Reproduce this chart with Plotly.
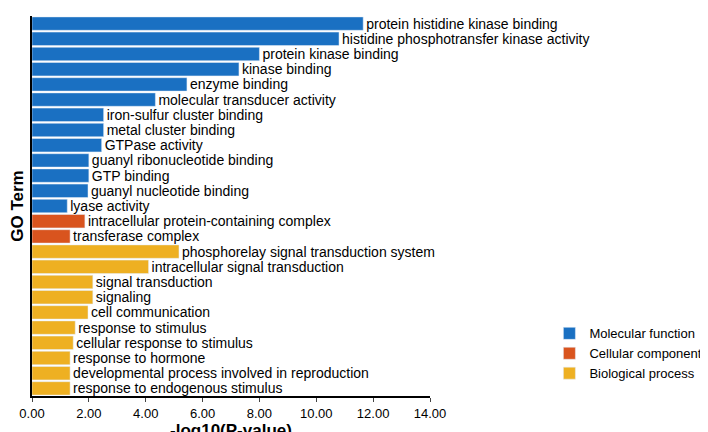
import plotly.graph_objects as go

mf_terms = ["protein histidine kinase binding","histidine phosphotransfer kinase activity","protein kinase binding","kinase binding","enzyme binding","molecular transducer activity","iron-sulfur cluster binding","metal cluster binding","GTPase activity","guanyl ribonucleotide binding","GTP binding","guanyl nucleotide binding","lyase activity"]
mf_vals = [11.65,10.8,8.0,7.28,5.45,4.34,2.52,2.52,2.45,2.0,2.0,1.97,1.24]
cc_terms = ["intracellular protein-containing complex","transferase complex"]
cc_vals = [1.86,1.34]
bp_terms = ["phosphorelay signal transduction system","intracellular signal transduction","signal transduction","signaling","cell communication","response to stimulus","cellular response to stimulus","response to hormone","developmental process involved in reproduction","response to endogenous stimulus"]
bp_vals = [5.17,4.1,2.14,2.14,1.97,1.52,1.45,1.34,1.34,1.34]
x_ticks = [0,2,4,6,8,10,12,14]

order = mf_terms + cc_terms + bp_terms
fig = go.Figure()
for name, terms, vals, col in [("Molecular function", mf_terms, mf_vals, "#1a70c2"),
                               ("Cellular component", cc_terms, cc_vals, "#d9541e"),
                               ("Biological process", bp_terms, bp_vals, "#eeb022")]:
    fig.add_trace(go.Bar(y=terms, x=vals, orientation="h", name=name, marker_color=col,
                         text=terms, textposition="outside", cliponaxis=False,
                         constraintext="none",
                         textfont=dict(size=14, color="black")))
fig.update_layout(
    width=708, height=432, margin=dict(l=24, r=284, t=8, b=28),
    plot_bgcolor="white", paper_bgcolor="white", bargap=0.12,
    font=dict(family="Liberation Sans, Arial", color="black"),
    legend=dict(x=1.3, y=0.02, xanchor="left", yanchor="bottom", font=dict(size=13),
                traceorder="normal", itemwidth=30, tracegroupgap=0),
)
fig.update_xaxes(range=[0,14], tickvals=x_ticks, ticktext=[f"{v:.2f}" for v in x_ticks],
                 showline=True, linecolor="black", linewidth=2, ticks="outside", ticklen=4,
                 tickfont=dict(size=13), showgrid=False, zeroline=False,
                 title=dict(text="<b>-log10(P-value)</b>", font=dict(size=17), standoff=0))
fig.update_yaxes(categoryorder="array", categoryarray=order[::-1], showticklabels=False,
                 showline=True, linecolor="black", linewidth=2, showgrid=False,
                 title=dict(text="<b>GO Term</b>", font=dict(size=17), standoff=2))
fig.write_html("out.html")
